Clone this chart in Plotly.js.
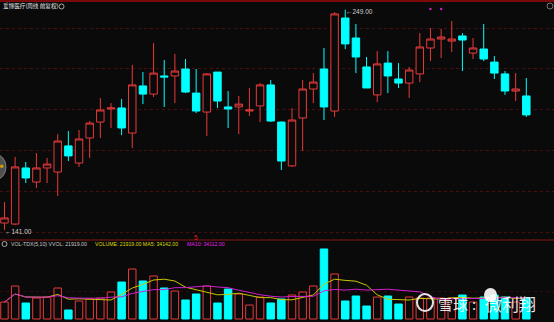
<!DOCTYPE html>
<html><head><meta charset="utf-8">
<script src="https://cdn.plot.ly/plotly-3.0.1.min.js"></script>
<style>html,body{margin:0;padding:0;background:#0b0b0c;overflow:hidden}#chart{width:554px;height:322px;}</style>
</head><body><div id="chart"></div>
<script>
// Weekly candles (爱博医疗, 周线 前复权)
const openP  = [144.4,143.9,171.4,164.5,171.4,169.4,182.2,173.8,186.1,193.9,200.3,200.8,188.5,211.6,207.6,216.5,216.5,219.9,208.1,198.8,218.4,201.3,201.3,199.3,201.8,212.1,193.9,172.4,195.9,210.1,219.9,199.3,244.9,235.1,220.9,207.2,222.8,215.0,213.0,217.5,230.2,234.6,233.6,236.1,227.7,229.7,223.3,217.5,209.1,206.7];
const highP  = [154.7,176.8,174.3,178.7,176.3,188.0,189.5,190.0,194.4,205.7,203.2,205.2,221.9,218.4,232.6,224.3,227.3,224.8,219.9,217.9,218.4,209.1,206.7,210.6,213.0,214.5,194.2,200.8,214.5,217.9,230.2,247.8,249.0,242.0,225.8,228.7,228.7,222.8,220.9,237.5,240.0,239.5,243.4,237.5,235.1,242.0,226.3,218.9,217.9,215.5];
const lowP   = [141.0,143.5,164.0,161.6,164.0,157.6,174.8,171.9,176.3,186.1,191.0,187.5,181.2,202.7,206.2,201.3,203.2,208.1,198.3,187.1,200.8,191.0,188.0,196.9,193.9,193.9,170.4,171.9,179.7,203.2,194.9,196.4,229.7,217.9,210.6,203.7,208.1,210.6,205.7,213.5,223.8,225.3,228.2,218.9,224.8,223.8,215.0,207.2,204.2,196.4];
const closeP = [146.9,171.9,166.5,171.4,173.3,184.6,177.3,185.6,193.4,199.8,200.8,191.0,212.1,207.6,217.9,216.0,218.9,208.6,199.3,217.5,204.2,200.3,202.7,199.8,212.1,194.4,174.8,194.9,210.1,213.5,201.3,246.9,232.2,225.8,210.6,222.4,216.5,213.0,219.4,230.7,234.6,235.6,234.6,234.1,230.2,224.8,217.9,209.1,210.1,197.4];
const volume = [17750,34450,16700,21900,22950,32350,9400,18800,20900,21900,28200,38600,52200,39700,44900,32350,29200,19850,26100,34450,16700,31300,26100,14600,22950,16700,20900,25050,28200,34450,73100,47000,18800,24000,13550,22950,24000,15650,22950,21900,21900,21900,21900,25050,17750,22950,25050,22950,17750,21919];
const priceGrid = [240,220,200,180,160,140];
const volGrid = [29200];
const markX = [41,42];
const markY = [249.3,249.3];
const highLabel = '←249.00';
const lowLabel = '←141.00';
const titleText = '爱博医疗(周线 前复权)';
const volTitle1 = 'VOL-TDX(5,10) VVOL: 21919.00';
const volTitle2 = 'VOLUME: 21919.00 MA5: 34142.00';
const volTitle3 = 'MA10: 34112.00';

const idx = openP.map((_, i) => i + 1);
function ma(arr, n){ return arr.map((_, i) => { const s = arr.slice(Math.max(0, i-n+1), i+1); return s.reduce((a,b)=>a+b,0)/s.length; }); }
const RED = '#e83a3a', CYAN = '#00ffff', BG = '#0a0a0b';
const up = closeP.map((c,i)=> c >= openP[i]);

const W = 554, H = 322;
const px = x => x / W, py = y => 1 - y / H;

const traces = [
  { type:'candlestick', x: idx, open: openP, high: highP, low: lowP, close: closeP,
    xaxis:'x', yaxis:'y', whiskerwidth:0,
    increasing:{ line:{ color: RED, width:1 }, fillcolor: BG },
    decreasing:{ line:{ color: CYAN, width:1 }, fillcolor: CYAN },
    hoverinfo:'skip', showlegend:false },
  { type:'scatter', mode:'markers', x: markX, y: markY, xaxis:'x', yaxis:'y',
    marker:{ size:2.5, color:'#c020c0' }, hoverinfo:'skip', showlegend:false },
  { type:'bar', x: idx, y: volume, xaxis:'x', yaxis:'y2',
    marker:{ color: up.map(u => u ? BG : CYAN), line:{ color: up.map(u => u ? RED : CYAN), width:1 } },
    hoverinfo:'skip', showlegend:false },
  { type:'scatter', mode:'lines', x: idx, y: ma(volume,5), xaxis:'x', yaxis:'y2',
    line:{ color:'#c8c800', width:1 }, hoverinfo:'skip', showlegend:false },
  { type:'scatter', mode:'lines', x: idx, y: ma(volume,10), xaxis:'x', yaxis:'y2',
    line:{ color:'#d020d0', width:1 }, hoverinfo:'skip', showlegend:false }
];

const fNum = 'Liberation Sans, DejaVu Sans, sans-serif';
const fCJK = 'Noto Sans CJK SC, sans-serif';
const ann = (text, x, y, size, color, family) => ({ text, x: px(x), y: py(y), xref:'paper', yref:'paper',
  xanchor:'left', yanchor:'middle', showarrow:false, font:{ size, color, family: family || fNum } });

const WM = 'rgba(255,255,255,0.88)';
const annotations = [
  ann(titleText, 1, 6, 5.6, '#e6e6e6', fCJK),
  ann(highLabel, 344, 12, 6.5, '#d0d0d0'),
  ann(lowLabel, 3, 231, 6.5, '#d0d0d0'),
  ann('5', 192, 237, 6.5, '#e02020'),
  ann(volTitle1, 9, 244, 5.2, '#c8c8c8'),
  ann(volTitle2, 93, 244, 5.2, '#d8d800'),
  ann(volTitle3, 185, 244, 5.2, '#e020e0'),
  ann('雪球', 436, 303, 15, WM, fCJK),
  ann(':', 470, 303, 15, WM, fCJK),
  ann('微利翔', 483, 303, 17, WM, fCJK)
];

const shapes = [
  { type:'rect', xref:'paper', yref:'paper', x0:0, x1:1, y0:py(2), y1:1, fillcolor:'#7a0a0a', line:{width:0} },
  { type:'line', xref:'paper', yref:'paper', x0:0, x1:1, y0:py(240), y1:py(240), line:{ color:'#8a1414', width:1 } },
  { type:'circle', xref:'paper', yref:'paper', x0:px(59), x1:px(64), y0:py(9), y1:py(4), line:{ color:'#aaaaaa', width:1 } },
  { type:'circle', xref:'paper', yref:'paper', x0:px(547), x1:px(553), y0:py(9), y1:py(3), line:{ color:'#777777', width:1 } },
  { type:'circle', xref:'paper', yref:'paper', x0:px(2), x1:px(7), y0:py(246.5), y1:py(241.5), line:{ color:'#aaaaaa', width:1 } },
  { type:'circle', xref:'paper', yref:'paper', x0:px(-16), x1:px(6), y0:py(180), y1:py(154), fillcolor:'#505050', line:{ color:'#7a7a7a', width:1 } },
  { type:'circle', xref:'paper', yref:'paper', x0:px(0), x1:px(3.5), y0:py(168), y1:py(164.5), fillcolor:'#d0a000', line:{ width:0 } },
  { type:'circle', xref:'paper', yref:'paper', x0:px(417), x1:px(433), y0:py(311), y1:py(294), line:{ color:WM, width:2 } },
  { type:'circle', xref:'paper', yref:'paper', x0:px(484), x1:px(497), y0:py(302), y1:py(288), fillcolor:'rgba(255,255,255,0.9)', line:{ width:0 } }
];

const layout = {
  width: W, height: H, margin:{ l:0, r:0, t:0, b:0 },
  paper_bgcolor: BG, plot_bgcolor: BG, showlegend:false,
  boxgap: 0.3, boxgroupgap: 0, bargap: 0.3,
  xaxis:{ range:[0.58, 52.6], anchor:'y2', showgrid:false, zeroline:false, showticklabels:false, ticks:'', showline:false, rangeslider:{ visible:false } },
  yaxis:{ domain:[82/322, 1], range:[136.08, 253.73], tickvals: priceGrid, showticklabels:false, ticks:'', zeroline:false, showline:false,
          gridcolor:'#4a0e0e', griddash:'dot', gridwidth:1 },
  yaxis2:{ domain:[0, 82/322], range:[-3132, 82476], tickvals: volGrid, showticklabels:false, ticks:'', zeroline:false, showline:false,
           gridcolor:'#330a0a', griddash:'dot', gridwidth:1 },
  annotations, shapes
};

Plotly.newPlot('chart', traces, layout, { staticPlot:true, displayModeBar:false });
</script></body></html>
